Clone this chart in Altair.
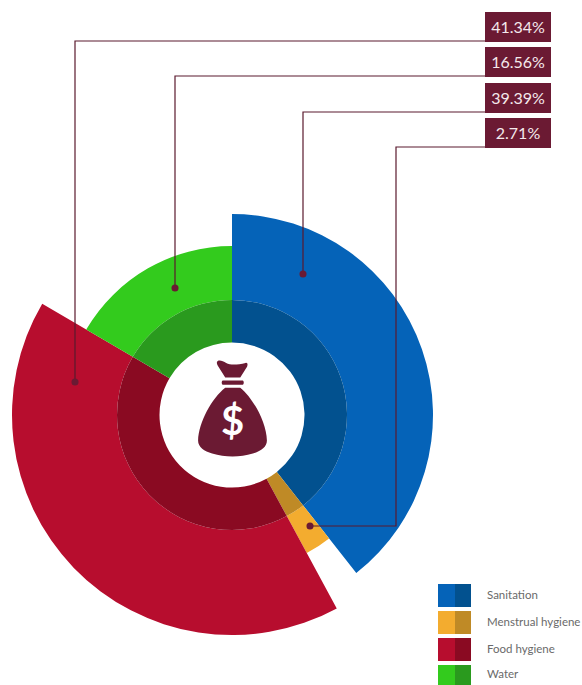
import altair as alt
import pandas as pd

# Budget shares by category
categories = ["Sanitation", "Menstrual hygiene", "Food hygiene", "Water"]
shares = [39.39, 2.71, 41.34, 16.56]
outer_radius = [201, 157, 220, 169]
bright = ["#0563B8", "#F3AC2F", "#B70D2E", "#33CB1D"]
dark = ["#02518F", "#BF8A26", "#8A0A22", "#2A9A1E"]

MAROON = "#6B1A33"
W, H = 582, 685
CX, CY = 232, 415
RING_R, HOLE_R = 115, 72.5

# Callouts in drawing order: label, then box top/bottom, then leader route
call_labels = ["41.34%", "16.56%", "39.39%", "2.71%"]
box_top = [12, 47, 83, 118]
box_bottom = [42, 77, 113, 148]
leader_x = [[485, 75, 75], [485, 175, 175], [485, 303, 303], [485, 396, 396, 310]]
leader_y = [[41, 41, 382], [76, 76, 288], [112, 112, 274], [147, 147, 526, 526]]

legend_top = [584, 611, 638, 665]
legend_bottom = [607, 634, 661, 685]

# Money bag outline, unit coordinates centred on the bag
BAG = (
    "M-0.32,-0.96 C-0.29,-1.02 -0.2,-0.98 -0.13,-0.94 C-0.04,-0.89 0.1,-0.9 0.27,-0.94 "
    "C0.31,-0.95 0.32,-0.91 0.3,-0.86 L0.16,-0.64 L-0.15,-0.64 L-0.29,-0.86 "
    "C-0.31,-0.89 -0.33,-0.93 -0.32,-0.96 Z "
    "M-0.2,-0.58 L0.21,-0.58 C0.24,-0.58 0.24,-0.49 0.21,-0.49 L-0.2,-0.49 "
    "C-0.23,-0.49 -0.23,-0.58 -0.2,-0.58 Z "
    "M-0.15,-0.43 L0.16,-0.43 C0.42,-0.22 0.7,0.28 0.71,0.66 "
    "C0.71,0.8 0.58,0.88 0.42,0.93 C0.15,1.01 -0.15,1.01 -0.42,0.93 "
    "C-0.58,0.88 -0.71,0.8 -0.71,0.66 C-0.7,0.28 -0.42,-0.22 -0.15,-0.43 Z"
)

px_x = alt.Scale(domain=[0, W], range=[0, W], nice=False, zero=False)
px_y = alt.Scale(domain=[0, H], range=[0, H], nice=False, zero=False)
theta_scale = alt.Scale(domain=[0, 100], range=[0, 6.283185307])
radius_scale = alt.Scale(type="linear", domain=[0, 220], range=[0, 220], zero=True)

ends, running = [], 0.0
for s in shares:
    running += s
    ends.append(running)
starts = [e - s for e, s in zip(ends, shares)]

sectors = pd.DataFrame({
    "category": categories, "start": starts, "end": ends,
    "outer": outer_radius, "ring": [RING_R] * 4, "hole": [HOLE_R] * 4,
    "bright": bright, "dark": dark,
})


def wedge(outer_field, inner_field, colour_field):
    return alt.Chart(sectors).mark_arc(stroke=None).encode(
        x=alt.value(CX), y=alt.value(CY),
        theta=alt.Theta("start:Q", scale=theta_scale),
        theta2="end:Q",
        radius=alt.Radius(f"{outer_field}:Q", scale=radius_scale),
        radius2=f"{inner_field}:Q",
        color=alt.Color(f"{colour_field}:N", scale=None),
    )


outer_wedges = wedge("outer", "ring", "bright")
inner_wedges = wedge("ring", "hole", "dark")

# Leader lines with their end dots
leader_rows = []
dot_rows = []
for label, xs, ys in zip(call_labels, leader_x, leader_y):
    for i, (x, y) in enumerate(zip(xs, ys)):
        leader_rows.append({"label": label, "order": i, "x": x, "y": y})
    dot_rows.append({"x": xs[-1], "y": ys[-1]})

leaders = alt.Chart(pd.DataFrame(leader_rows)).mark_line(
    color="#5A1A2E", strokeWidth=1.2, interpolate="linear"
).encode(
    x=alt.X("x:Q", scale=px_x, axis=None),
    y=alt.Y("y:Q", scale=px_y, axis=None),
    detail="label:N",
    order="order:Q",
)
dots = alt.Chart(pd.DataFrame(dot_rows)).mark_circle(color=MAROON, size=50, opacity=1).encode(
    x=alt.X("x:Q", scale=px_x, axis=None),
    y=alt.Y("y:Q", scale=px_y, axis=None),
)

# Percentage boxes
boxes_df = pd.DataFrame({
    "label": call_labels, "x0": [485] * 4, "x1": [551] * 4,
    "top": box_top, "bottom": box_bottom,
})
boxes_df["mid"] = (boxes_df["top"] + boxes_df["bottom"]) / 2 + 0.5
boxes_df["cx"] = (boxes_df["x0"] + boxes_df["x1"]) / 2
boxes = alt.Chart(boxes_df).mark_rect(color=MAROON).encode(
    x=alt.X("x0:Q", scale=px_x, axis=None), x2="x1:Q",
    y=alt.Y("top:Q", scale=px_y, axis=None), y2="bottom:Q",
)
box_text = alt.Chart(boxes_df).mark_text(
    font="Lato", fontSize=16, color="#F4E9EC", align="center", baseline="middle"
).encode(
    x=alt.X("cx:Q", scale=px_x, axis=None),
    y=alt.Y("mid:Q", scale=px_y, axis=None),
    text="label:N",
)

# Central money bag
icon_df = pd.DataFrame({"x": [232.5], "y": [408.5], "sign": ["$"], "sign_y": [423]})
bag = alt.Chart(icon_df).mark_point(
    shape=BAG, filled=True, color=MAROON, opacity=1, size=9400, strokeWidth=0
).encode(
    x=alt.X("x:Q", scale=px_x, axis=None),
    y=alt.Y("y:Q", scale=px_y, axis=None),
)
sign = alt.Chart(icon_df).mark_text(
    font="Lato", fontWeight="bold", fontSize=40, color="white",
    align="center", baseline="middle"
).encode(
    x=alt.X("x:Q", scale=px_x, axis=None),
    y=alt.Y("sign_y:Q", scale=px_y, axis=None),
    text="sign:N",
)

# Two-tone legend
legend_df = pd.DataFrame({
    "category": categories, "top": legend_top, "bottom": legend_bottom,
    "bright": bright, "dark": dark,
    "a": [438] * 4, "b": [455] * 4, "c": [471] * 4, "tx": [487] * 4,
})
legend_df["mid"] = (legend_df["top"] + legend_df["bottom"]) / 2
legend_left = alt.Chart(legend_df).mark_rect().encode(
    x=alt.X("a:Q", scale=px_x, axis=None), x2="b:Q",
    y=alt.Y("top:Q", scale=px_y, axis=None), y2="bottom:Q",
    color=alt.Color("bright:N", scale=None),
)
legend_right = alt.Chart(legend_df).mark_rect().encode(
    x=alt.X("b:Q", scale=px_x, axis=None), x2="c:Q",
    y=alt.Y("top:Q", scale=px_y, axis=None), y2="bottom:Q",
    color=alt.Color("dark:N", scale=None),
)
legend_text = alt.Chart(legend_df).mark_text(
    font="Lato", fontSize=11.5, color="#6A6A6A", align="left", baseline="middle"
).encode(
    x=alt.X("tx:Q", scale=px_x, axis=None),
    y=alt.Y("mid:Q", scale=px_y, axis=None),
    text="category:N",
)

chart = alt.layer(
    outer_wedges, inner_wedges, leaders, dots, boxes, box_text,
    bag, sign, legend_left, legend_right, legend_text,
).resolve_scale(color="independent").properties(
    width=W, height=H, padding=0, background="white",
    autosize=alt.AutoSizeParams(type="none"),
).configure_view(stroke=None)

chart.save("out.html", embed_options={"renderer": "svg", "actions": False})
